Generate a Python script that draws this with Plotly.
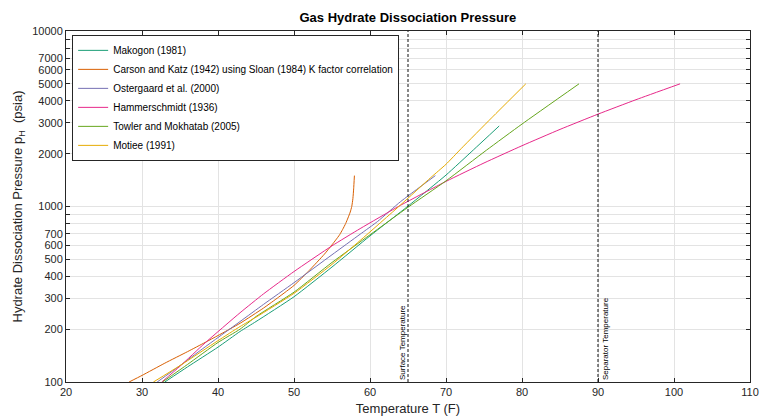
import plotly.graph_objects as go

# ---------------- data ----------------
makogon_T = [33.0, 36.0, 40.0, 42.9, 45.0, 50.0, 55.0, 60.0, 65.0, 70.0, 73.6, 77.0]
makogon_p = [100, 122, 158, 194, 221, 306, 452, 680, 1005, 1510, 2100, 2877]

carson_T = [28.3, 30.0, 33.0, 36.0, 38.3, 40.0, 42.9, 46.0, 48.0, 50.0, 52.0, 54.0,
            55.0, 55.5, 56.0, 56.4, 56.8, 57.1, 57.4, 57.6, 57.75, 57.85, 57.95]
carson_p = [100, 109, 128, 149, 168, 184, 216, 264, 305, 355, 432, 535,
            605, 645, 690, 740, 800, 860, 930, 1000, 1110, 1260, 1500]

ostergaard_T = [32.0, 35.0, 38.0, 42.9, 46.0, 50.0, 55.0, 58.7, 61.0, 64.0, 68.6]
ostergaard_p = [100, 124, 155, 221, 277, 368, 531, 695, 822, 1064, 1500]

hammer_T = [32.6, 35.0, 38.3, 42.9, 46.0, 50.0, 55.0, 58.7, 64.0, 70.0, 75.0, 80.0, 85.0, 90.0, 95.0, 100.8]
hammer_p = [100, 123, 167, 248, 318, 426, 597, 748, 1015, 1390, 1770, 2220, 2750, 3360, 4060, 5000]

towler_T = [32.7, 36.0, 40.0, 42.9, 45.0, 50.0, 55.0, 60.0, 65.0, 70.0, 75.3, 80.0, 87.5]
towler_p = [100, 126, 168, 200, 236, 325, 480, 690, 990, 1400, 2090, 2950, 5000]

motiee_T = [31.5, 35.0, 40.0, 42.9, 45.0, 50.0, 55.0, 58.7, 64.0, 68.0, 70.0, 72.0, 76.0, 80.5]
motiee_p = [100, 124, 172, 207, 234, 320, 468, 640, 1019, 1462, 1740, 2138, 3199, 5000]

series_names = [
    "Makogon (1981)",
    "Carson and Katz (1942) using Sloan (1984) K factor correlation",
    "Ostergaard et al. (2000)",
    "Hammerschmidt (1936)",
    "Towler and Mokhatab (2005)",
    "Motiee (1991)",
]
series_T = [makogon_T, carson_T, ostergaard_T, hammer_T, towler_T, motiee_T]
series_p = [makogon_p, carson_p, ostergaard_p, hammer_p, towler_p, motiee_p]
series_colors = ["#1b9e77", "#d95f02", "#7570b3", "#e7298a", "#66a61e", "#e6ab02"]

surface_temp = 65
separator_temp = 90

x_ticks = [20, 30, 40, 50, 60, 70, 80, 90, 100, 110]
y_ticks = [100, 200, 300, 400, 500, 600, 700, 1000, 2000, 3000, 4000, 5000, 6000, 7000, 10000]
y_ticklabels = ["100", "200", "300", "400", "500", "600", "700", "1000",
                "2000", "3000", "4000", "5000", "6000", "7000", "10000"]
y_minor_ticks = [800, 900, 8000, 9000]

# ---------------- figure ----------------
FONT = "Liberation Sans, Arial, Helvetica, sans-serif"
AX = "#262626"
GRID = "#e3e3e3"

fig = go.Figure()
for name, T, p, c in zip(series_names, series_T, series_p, series_colors):
    fig.add_trace(go.Scatter(
        x=T, y=p, name=name, mode="lines",
        line=dict(color=c, width=1, shape="spline", smoothing=0.5),
    ))

for t in (surface_temp, separator_temp):
    fig.add_vline(x=t, line=dict(color="#111111", width=1, dash="3px,2px"))

fig.add_annotation(x=surface_temp, y=2, xref="x", yref="y",
                   text="Surface Temperature", textangle=-90, showarrow=False,
                   xanchor="right", yanchor="bottom", xshift=1, yshift=0,
                   font=dict(family=FONT, size=8, color="#000000"))
fig.add_annotation(x=separator_temp, y=2, xref="x", yref="y",
                   text="Separator Temperature", textangle=-90, showarrow=False,
                   xanchor="left", yanchor="bottom", xshift=1, yshift=0,
                   font=dict(family=FONT, size=8, color="#000000"))

fig.update_layout(
    width=774, height=417,
    margin=dict(l=66, r=24, t=31, b=35, autoexpand=False),
    paper_bgcolor="white", plot_bgcolor="white",
    font=dict(family=FONT, size=11, color=AX),
    title=dict(text="<b>Gas Hydrate Dissociation Pressure</b>", x=0.527, xanchor="center",
               y=0.958, yanchor="middle", font=dict(family=FONT, size=13, color="#000000")),
    showlegend=True,
    legend=dict(x=0.009, y=0.989, xanchor="left", yanchor="top",
                bgcolor="white", bordercolor=AX, borderwidth=1,
                font=dict(family=FONT, size=10, color="#000000"),
                itemwidth=30, tracegroupgap=0),
)

fig.update_xaxes(
    range=[20, 110], tickvals=x_ticks, ticks="inside", ticklen=4, tickcolor=AX,
    showline=True, linecolor=AX, linewidth=1, mirror="ticks", automargin=False,
    showgrid=True, gridcolor=GRID, gridwidth=1, zeroline=False,
    tickfont=dict(family=FONT, size=11, color=AX),
    title=dict(text="Temperature T (F)", font=dict(family=FONT, size=13, color=AX), standoff=6),
)
fig.update_yaxes(
    type="log", range=[2, 4], tickvals=y_ticks, ticktext=y_ticklabels,
    ticks="inside", ticklen=4, tickcolor=AX,
    minor=dict(tickmode="array", tickvals=y_minor_ticks, ticks="inside", ticklen=4,
               tickcolor=AX, showgrid=True, gridcolor=GRID, gridwidth=1),
    showline=True, linecolor=AX, linewidth=1, mirror="ticks", automargin=False,
    showgrid=True, gridcolor=GRID, gridwidth=1, zeroline=False,
    tickfont=dict(family=FONT, size=11, color=AX),
    title=dict(text="Hydrate Dissociation Pressure p<sub>H</sub>  (psia)",
               font=dict(family=FONT, size=13, color=AX), standoff=6),
)

fig.write_html("out.html")
